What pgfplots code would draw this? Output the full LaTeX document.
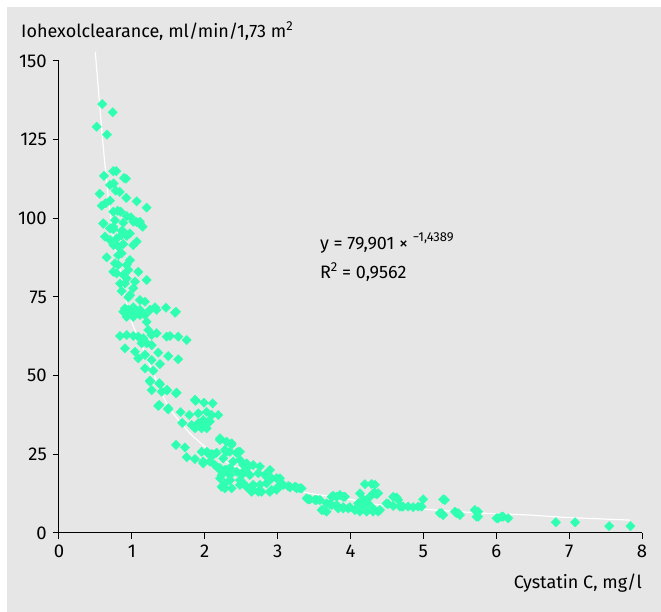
\documentclass[border=0pt]{standalone}
\usepackage{fontspec}
\setmainfont{Fira Sans}
\usepackage{pgfplots}
\pgfplotsset{compat=1.18}
\definecolor{bggray}{HTML}{E6E6E6}
\definecolor{pts}{HTML}{30FFB2}
\newcommand{\supr}[1]{\raisebox{0.42em}{\fontsize{13}{13}\selectfont #1}}

\begin{document}
\fontsize{18}{21}\selectfont
\begin{tikzpicture}[x=1pt,y=1pt]
\useasboundingbox (0,0) rectangle (661,612);
\fill[white] (0,0) rectangle (661,612);
\fill[bggray] (7,0) rectangle (661,605);
\node[anchor=west, inner sep=0pt] at (21,581) {Iohexolclearance, ml/min/1,73 m\supr{2}};
\node[anchor=east, inner sep=0pt] at (642,29) {Cystatin C, mg/l};
\begin{axis}[
    at={(59pt,79pt)}, anchor=south west,
    scale only axis, width=583pt, height=472pt,
    xmin=0, xmax=8, ymin=0, ymax=150,
    axis x line*=bottom, axis y line*=left,
    xtick={0,1,...,8}, ytick={0,25,...,150},
    tick align=outside, major tick length=6pt,
    axis line style={line width=1pt, black},
    tick style={line width=1pt, black},
    ticklabel style={font=\fontsize{18.5}{21}\selectfont},
    /pgf/number format/assume math mode=true,
    clip=false,
]
% trend line
\addplot[white, line width=1.2pt, smooth] coordinates {
(0.498,152.9) (0.599,124.9) (0.676,106.9) (0.745,94.7) (0.837,83.6)
(0.974,68.7) (1.18,57.2) (1.43,43.3) (1.568,38.0) (1.797,31.7)
(2.026,27.0) (2.209,23.7) (2.483,20.6) (3.0,16.8) (3.351,13.1)
(3.672,11.8) (4.037,10.5) (4.403,8.9) (5.044,7.5) (5.82,6.3)
(6.46,5.7) (6.918,5.0) (7.833,4.1)};
% measured values
\addplot[only marks, color=pts, mark=square*, mark size=3.3pt, mark options={rotate=45, draw=pts, fill=pts}] coordinates {
(0.594,136.3) (0.737,133.7) (0.517,129.1) (0.658,126.6) (0.617,113.5) (0.745,115.0)
(0.786,115.0) (0.892,112.8) (0.92,112.6) (0.700,110.6) (0.750,111.1) (0.558,107.8)
(0.778,108.8) (0.833,108.4) (0.923,106.5) (1.066,105.4) (1.203,103.4) (0.586,104.0)
(0.641,104.8) (0.700,105.6) (0.745,102.1) (0.805,102.4) (0.846,102.1) (0.929,100.7)
(0.988,100.3) (1.066,98.8) (1.111,98.9) (0.608,98.3) (0.768,99.4) (0.700,96.8)
(0.745,96.5) (0.860,96.0) (0.892,95.6) (1.148,97.3)
(0.608,98.4) (0.745,97.3) (0.882,98.6) (1.019,98.9) (1.111,98.2) (0.631,94.2)
(0.700,93.1) (0.791,93.6) (0.860,94.7) (0.929,94.4) (0.974,95.2) (1.066,92.6)
(0.745,91.5) (0.813,91.0) (0.882,91.8) (1.019,91.5) (0.654,87.6) (0.813,88.3)
(0.860,88.9) (0.974,86.7) (0.768,85.7) (0.813,85.2) (0.929,85.2) (0.951,83.6)
(1.088,83.0) (0.745,83.0) (0.791,82.5) (0.882,82.0) (0.929,80.9) (1.043,79.9)
(1.203,80.4) (0.837,79.3) (0.905,79.3) (1.019,77.8) (0.860,76.9) (0.974,75.6)
(0.951,74.9) (1.111,74.0) (1.180,73.5) (0.905,71.4) (0.951,70.9) (1.019,71.7)
(1.111,70.9) (1.180,69.3) (1.317,71.7) (1.468,71.6) (1.605,70.3) (0.929,68.7)
(1.019,68.7)
(0.882,70.3) (1.019,69.8) (1.111,69.3) (1.203,67.1) (1.248,70.9) (1.340,70.9)
(1.591,70.0) (0.837,62.6) (0.929,62.9) (1.019,62.6) (1.088,62.4) (1.156,61.9)
(1.225,64.5) (1.272,62.9) (1.340,63.5) (1.477,62.4) (1.523,62.6) (1.636,62.4)
(1.752,61.3) (0.905,58.7) (1.043,57.6) (1.134,60.3) (1.203,60.3) (1.272,59.7)
(1.088,55.5) (1.180,56.6) (1.272,55.0) (1.362,57.3) (1.499,56.2) (1.636,55.2)
(1.180,52.3) (1.294,51.6) (1.385,53.7) (1.248,48.4) (1.376,47.6) (1.272,45.4)
(1.409,44.9) (1.486,45.4) (1.615,44.6) (1.866,42.3) (1.376,40.7) (1.499,39.6)
(1.248,48.1) (1.385,47.3) (1.477,45.4) (1.605,44.4) (1.362,40.4) (1.499,39.3)
(1.875,42.0) (1.989,41.4) (2.108,41.2) (1.669,38.4) (1.787,37.5) (1.911,38.0)
(2.026,38.5) (2.095,37.5) (2.185,37.5) (1.691,35.0) (1.820,34.3) (1.911,34.9)
(1.979,35.9) (2.071,35.4) (1.866,33.3) (1.957,33.3) (2.026,33.3) (1.605,28.0)
(1.728,27.2) (1.752,24.1) (1.866,23.5) (1.957,25.8) (2.026,25.8) (2.095,25.1)
(2.163,25.5) (1.979,22.7) (2.071,22.7) (2.140,21.6) (2.209,29.6) (2.300,29.0)
(2.369,28.5) (2.277,26.4) (2.346,25.8) (2.438,25.5) (2.483,25.8) (2.254,23.7)
(2.391,22.7) (2.483,23.2) (2.575,22.1) (2.185,20.6) (2.300,20.0) (2.438,19.5)
(2.551,20.0) (2.232,18.4) (2.346,18.4) (2.506,18.4)
(2.003,34.9) (2.048,35.4) (2.209,30.1) (2.369,28.0) (2.300,25.8) (2.460,25.8)
(2.048,25.3) (2.117,24.8) (1.979,22.1) (2.209,20.6) (2.277,20.0) (2.346,20.6)
(2.528,21.6) (2.597,21.1) (2.665,21.6) (2.757,21.1) (2.894,20.0) (2.528,19.0)
(2.620,18.4) (2.734,19.0) (2.826,18.4) (2.918,17.4) (2.986,17.4) (2.209,17.4)
(2.277,15.8) (2.346,16.8) (2.483,16.8) (2.528,15.8) (2.665,15.3) (2.757,15.3)
(2.849,15.8) (2.918,13.7) (3.008,14.7) (3.077,15.3) (3.169,14.7) (3.261,14.2)
(3.329,14.2) (2.277,14.2) (2.369,14.2) (2.643,13.1) (2.734,13.1) (3.398,11.0)
(2.232,14.7) (2.483,15.3) (2.575,14.7) (2.665,13.7) (2.781,13.1) (2.894,13.1)
(2.986,13.7) (3.169,14.5) (3.261,14.5) (3.420,10.7) (3.512,10.5) (3.580,10.5)
(3.626,7.3) (3.741,11.5) (3.809,11.5) (3.900,11.5) (3.717,9.2) (3.809,8.9)
(3.900,7.8) (3.968,7.8)
(3.032,17.4) (3.055,15.3) (3.145,14.9) (3.237,14.7) (3.306,14.2) (3.443,10.7)
(3.535,10.5) (3.763,11.8) (3.855,12.1) (3.923,11.5) (3.672,9.4) (3.741,8.9)
(3.604,7.3) (3.672,6.8) (3.831,7.8) (3.900,8.2) (3.992,8.2) (4.060,7.3)
(4.129,12.6) (4.174,10.7) (4.266,11.5) (4.198,15.5) (4.289,15.6) (4.335,15.3)
(4.335,12.6) (4.380,12.6) (4.106,9.4) (4.174,8.9) (4.243,9.4) (4.311,7.8)
(4.403,7.3) (4.129,6.8) (4.221,6.8) (4.311,6.8) (4.380,6.8) (4.495,9.4)
(4.586,11.5) (4.654,10.5) (4.723,8.4) (4.792,8.4)
(4.678,8.4) (4.860,8.2) (4.929,8.4) (4.975,8.4) (4.997,10.7) (4.517,9.2)
(4.586,8.6) (4.701,8.4) (4.632,11.3) (4.358,12.3) (4.311,12.6) (5.272,10.7)
(5.295,10.5) (5.226,6.3) (5.249,6.3) (5.272,5.7) (5.432,6.8) (5.455,6.3)
(5.477,6.3) (5.501,5.7) (5.706,7.3) (5.752,6.8) (5.730,5.2) (5.752,5.2)
(6.004,4.7) (6.026,4.7) (6.073,5.2) (6.095,5.2) (6.163,4.7) (6.818,3.4)
(7.082,3.4) (7.549,2.2) (7.842,2.2)};
\node[anchor=west, inner sep=0pt] at (axis cs:3.58,92.2) {y = 79,901 × \supr{−1,4389}};
\node[anchor=west, inner sep=0pt] at (axis cs:3.58,82.9) {R\supr{2} = 0,9562};
\end{axis}
\end{tikzpicture}
\end{document}
